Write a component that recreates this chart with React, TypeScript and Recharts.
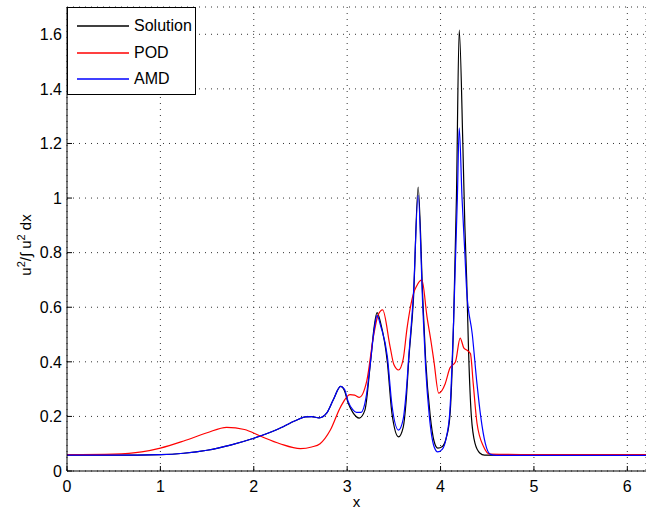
import React from 'react'
import { LineChart, Line, XAxis, YAxis, CartesianGrid } from 'recharts'

// [x, value] pairs
const solution: [number, number][] = [
  [0, 0.058], [0.5, 0.058], [1, 0.06], [1.25, 0.065], [1.5, 0.076], [1.75, 0.095], [2, 0.12],
  [2.25, 0.152], [2.45, 0.185], [2.55, 0.198], [2.62, 0.199], [2.7, 0.195], [2.78, 0.212],
  [2.85, 0.26], [2.93, 0.31], [2.97, 0.295], [3.01, 0.25], [3.06, 0.215], [3.13, 0.194],
  [3.19, 0.223], [3.25, 0.4], [3.29, 0.53], [3.32, 0.58], [3.36, 0.54], [3.43, 0.4], [3.48, 0.21],
  [3.55, 0.125], [3.6, 0.16], [3.63, 0.25], [3.66, 0.41], [3.71, 0.63], [3.76, 1.04], [3.81, 0.63],
  [3.84, 0.41], [3.89, 0.2], [3.93, 0.11], [3.97, 0.084], [4.02, 0.09], [4.06, 0.12], [4.1, 0.2],
  [4.14, 0.55], [4.17, 1.0], [4.2, 1.615], [4.24, 1.18], [4.26, 0.9], [4.28, 0.7], [4.3, 0.44],
  [4.33, 0.2], [4.37, 0.1], [4.42, 0.066], [4.47, 0.058], [5, 0.057], [5.5, 0.057], [6, 0.057],
  [6.2, 0.057],
]

const pod: [number, number][] = [
  [0, 0.06], [0.5, 0.062], [0.8, 0.07], [1, 0.084], [1.25, 0.11], [1.5, 0.14], [1.71, 0.16],
  [1.9, 0.152], [2.07, 0.128], [2.28, 0.1], [2.5, 0.082], [2.62, 0.088], [2.71, 0.1], [2.82, 0.15],
  [2.93, 0.235], [3.03, 0.28], [3.08, 0.278], [3.13, 0.27], [3.21, 0.33], [3.28, 0.49], [3.33, 0.57],
  [3.38, 0.59], [3.46, 0.455], [3.5, 0.39], [3.55, 0.37], [3.6, 0.41], [3.64, 0.52], [3.71, 0.65],
  [3.74, 0.675], [3.8, 0.7], [3.855, 0.565], [3.9, 0.47], [3.93, 0.4], [3.98, 0.285], [4.05, 0.32],
  [4.1, 0.377], [4.16, 0.4], [4.21, 0.487], [4.25, 0.45], [4.28, 0.443], [4.32, 0.43], [4.35, 0.32],
  [4.39, 0.176], [4.46, 0.09], [4.53, 0.062], [5, 0.06], [5.5, 0.06], [6, 0.06], [6.2, 0.06],
]

const amd: [number, number][] = [
  [0, 0.058], [0.5, 0.058], [1, 0.06], [1.25, 0.065], [1.5, 0.076], [1.75, 0.095], [2, 0.12],
  [2.25, 0.152], [2.45, 0.185], [2.55, 0.198], [2.62, 0.199], [2.7, 0.195], [2.78, 0.212],
  [2.85, 0.26], [2.93, 0.31], [2.97, 0.3], [3.01, 0.255], [3.06, 0.225], [3.1, 0.215], [3.15, 0.215],
  [3.2, 0.265], [3.25, 0.4], [3.29, 0.52], [3.32, 0.57], [3.36, 0.53], [3.43, 0.42], [3.48, 0.24],
  [3.55, 0.15], [3.6, 0.19], [3.63, 0.28], [3.66, 0.42], [3.71, 0.65], [3.76, 1.01], [3.81, 0.6],
  [3.84, 0.38], [3.88, 0.2], [3.93, 0.09], [3.97, 0.07], [4.02, 0.08], [4.06, 0.12], [4.1, 0.22],
  [4.14, 0.55], [4.18, 1.0], [4.2, 1.257], [4.23, 1.0], [4.26, 0.8], [4.28, 0.66], [4.34, 0.5],
  [4.39, 0.32], [4.43, 0.2], [4.48, 0.1], [4.53, 0.062], [4.6, 0.057], [5, 0.057], [5.5, 0.057],
  [6, 0.057], [6.2, 0.057],
]

const xTicks = [0, 1, 2, 3, 4, 5, 6]
const yTicks = [0, 0.2, 0.4, 0.6, 0.8, 1, 1.2, 1.4, 1.6]

const legendItems = [
  { label: 'Solution', color: '#000000' },
  { label: 'POD', color: '#ff0000' },
  { label: 'AMD', color: '#0000ff' },
]

const toRows = (pts: [number, number][]) => pts.map(([x, y]) => ({ x, y }))

const FONT = '"Liberation Sans", Arial, Helvetica, sans-serif'

function YLabel() {
  return (
    <text transform="translate(31,245) rotate(-90)" textAnchor="middle" fontSize={15} fill="#000" fontFamily={FONT}>
      u<tspan dy={-6} fontSize={11}>2</tspan>
      <tspan dy={6}>/∫ u</tspan>
      <tspan dy={-6} fontSize={11}>2</tspan>
      <tspan dy={6}> dx</tspan>
    </text>
  )
}

export default function App() {
  const tickStyle = { fill: '#000', fontSize: 16, fontFamily: FONT }
  return (
    <div style={{ position: 'absolute', left: 0, top: 0, width: 646, height: 515, background: '#fff', fontFamily: FONT }}>
      <LineChart width={646} height={515} margin={{ top: 7, right: 0, bottom: 0, left: 0 }}>
        <CartesianGrid stroke="#333" strokeDasharray="1 5" />
        <XAxis
          type="number" dataKey="x" domain={[0, 6.2]} ticks={xTicks} height={44}
          allowDataOverflow tickSize={-5} tickMargin={15} tick={tickStyle}
          axisLine={{ stroke: '#000' }} tickLine={{ stroke: '#000' }}
          label={{ value: 'x', position: 'insideBottom', offset: 8, fill: '#000', fontSize: 15, fontFamily: FONT }}
        />
        <XAxis
          xAxisId="top" orientation="top" type="number" dataKey="x" domain={[0, 6.2]} ticks={xTicks}
          height={0} allowDataOverflow tickSize={-5} tick={false}
          axisLine={{ stroke: '#000' }} tickLine={{ stroke: '#000' }}
        />
        <YAxis
          type="number" domain={[0, 1.7]} ticks={yTicks} width={67} allowDataOverflow
          tickSize={-5} tickMargin={10} tick={tickStyle}
          axisLine={{ stroke: '#000' }} tickLine={{ stroke: '#000' }}
          label={{ content: () => <YLabel /> }}
        />
        <Line data={toRows(solution)} dataKey="y" type="monotone" stroke="#000000" strokeWidth={1.2} dot={false} isAnimationActive={false} />
        <Line data={toRows(pod)} dataKey="y" type="monotone" stroke="#ff0000" strokeWidth={1.2} dot={false} isAnimationActive={false} />
        <Line data={toRows(amd)} dataKey="y" type="monotone" stroke="#0000ff" strokeWidth={1.2} dot={false} isAnimationActive={false} />
      </LineChart>

      {/* legend box, top-left corner of the axes */}
      <div style={{
        position: 'absolute', left: 67, top: 7, width: 129, height: 88, boxSizing: 'border-box',
        border: '1px solid #000', background: '#fff',
      }}>
        {legendItems.map((it, i) => (
          <div key={it.label} style={{ position: 'absolute', left: 0, top: 18 + i * 26.5, width: '100%', height: 0 }}>
            <svg width={52} height={4} style={{ position: 'absolute', left: 9, top: -2 }}>
              <line x1={0} y1={2} x2={52} y2={2} stroke={it.color} strokeWidth={1.3} />
            </svg>
            <span style={{ position: 'absolute', left: 66, top: -10, fontSize: 16, lineHeight: '20px', color: '#000' }}>{it.label}</span>
          </div>
        ))}
      </div>
    </div>
  )
}
